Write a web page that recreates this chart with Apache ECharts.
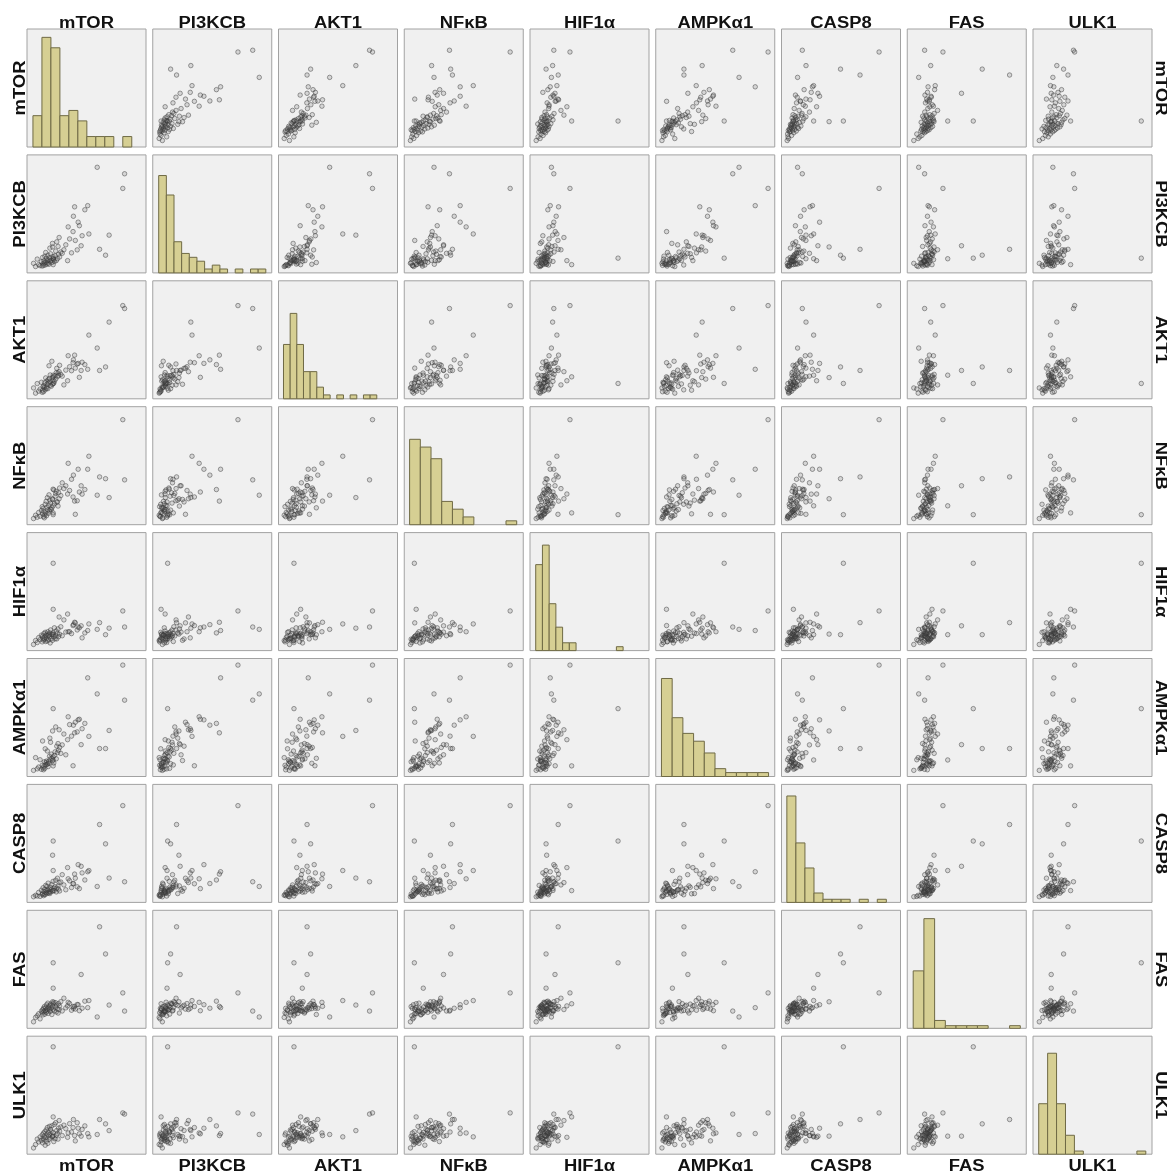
<!DOCTYPE html>
<html><head><meta charset="utf-8">
<script src="https://cdn.jsdelivr.net/npm/echarts@6/dist/echarts.min.js"></script>
<style>html,body{margin:0;padding:0;background:#fff}#c{width:1167px;height:1174px}</style>
</head><body><div id="c"></div>
<script>
// Variable names (column / row order)
const varNames = ['mTOR','PI3KCB','AKT1','NFκB','HIF1α','AMPKα1','CASP8','FAS','ULK1'];

// Observations (values on each variable's 0–100 axis scale), one array per variable
const mTOR = [82, 80.5, 59, 69, 52, 66, 61, 51, 45.5, 22, 22, 21.5, 22, 40, 39, 43, 34.6,
  5.5, 7.2, 8.6, 9.8, 11.0, 12.1, 12.8, 13.1, 13.5, 13.9, 14.2, 14.6, 15.0, 15.3, 15.7, 16.1, 16.4, 16.8, 17.1, 17.5, 17.8, 18.2, 18.5, 18.9, 19.2, 19.5, 19.8, 20.4, 20.9, 21.4, 21.9, 22.5, 23.0, 23.6, 24.1, 24.6, 25.0, 25.6, 26.1, 26.5, 27.0, 27.4, 28.4, 29.6, 31.0, 32.6, 34.1, 35.8, 37.4, 38.7, 40.6, 42.2, 44.0, 46.3, 48.6];
const PI3KCB = [84, 71.6, 89.5, 32, 33, 15, 20, 57, 23, 12.5, 7, 22, 12, 56, 48, 43, 39,
  8.1, 5.4, 11.7, 7.0, 6.1, 9.5, 5.8, 13.1, 7.8, 6.4, 10.2,
  8.6, 14.2, 6.7, 17.3, 9.0, 12.4, 7.5, 10.6, 15.0, 8.3, 11.0,
  7.3, 12.8, 21.0, 9.9, 16.2, 10.8, 8.8, 25.0, 13.9, 11.2, 9.7,
  14.6, 18.5, 10.4, 26.3, 12.0, 22.4, 15.8, 30.0, 13.5, 17.7, 16.6,
  19.6, 23.8, 10.4, 28.8, 17.0, 35.0, 27.5, 19.5, 40.0, 31.5, 53.5];
const AKT1 = [76.5, 79, 43, 65, 54, 27, 24, 25, 24, 13, 18.6, 18, 20, 37, 33, 30, 36.5,
  9.2, 4.8, 12.9, 6.5, 8.3, 14.0, 5.5, 7.3, 10.3, 6.0, 11.2,
  9.7, 13.7, 7.6, 17.7, 10.0, 8.9, 15.0, 12.6, 8.6, 16.2, 13.5,
  28.0, 17.2, 14.5, 20.2, 11.5, 10.6, 31.8, 12.3, 15.7, 13.2, 14.8,
  19.7, 16.7, 22.2, 25.8, 18.7, 21.8, 19.8, 23.0, 28.4, 20.7, 19.2,
  11.8, 24.3, 15.3, 27.2, 23.8, 30.6, 26.0, 29.5, 18.2, 31.0, 29.0];
const NFkB = [38, 89, 25, 23, 58, 39, 40.5, 47, 33, 8.5, 10, 22, 16, 20, 42, 47, 52,
  5.2, 8.0, 6.3, 10.4, 7.2, 12.0, 15.3, 9.2, 13.8, 6.8, 11.2,
  5.8, 8.4, 17.3, 10.0, 19.8, 7.6, 14.8, 22.9, 12.4, 9.6, 16.3,
  25.3, 11.6, 20.8, 13.2, 18.3, 12.8, 14.3, 21.4, 30.1, 29.5, 17.8,
  24.1, 26.5, 28.3, 19.3, 19.3, 15.8, 27.1, 22.0, 31.1, 24.7, 35.5,
  30.6, 33.0, 26.0, 29.0, 38.5, 23.5, 8.8, 20.3, 27.7, 25.9, 29.8];
const HIF1a = [20, 33.6, 18, 19, 22.6, 13.5, 23.7, 17, 21, 74, 35, 14, 13.5, 24, 22, 20, 16,
  5.2, 8.5, 6.8, 11.0, 9.3, 13.1, 7.4, 12.2, 10.6, 8.9, 14.4, 9.7, 11.5, 15.5, 7.7, 12.9, 10.1, 14.1, 8.2, 16.0, 12.6, 9.1, 13.6, 11.9, 14.9, 6.5, 17.5, 10.2, 13.4, 8.7, 15.2, 11.7, 19.3, 10.0, 12.4, 16.6, 9.9, 14.6, 18.4, 11.8, 28.5, 13.9, 20.2, 12.6, 26.0, 15.7, 31.0, 16.0, 14.4, 21.2, 23.5, 17.5, 19.3, 10.8, 15.0];
const AMPKa1 = [64.7, 94.4, 70, 39, 34, 23.7, 23.7, 83.6, 27, 57.5, 9, 38.6, 14, 37, 43.5, 48, 50.6,
  5.2, 16.0, 6.5, 8.0, 14.2, 6.1, 9.5, 30.1, 7.3, 5.7, 8.8,
  12.5, 6.9, 23.5, 9.8, 11.9, 13.1, 10.2, 21.6, 10.9, 8.4, 12.8,
  11.2, 17.2, 32.5, 14.8, 29.0, 19.0, 15.4, 13.5, 16.6, 11.5, 17.8,
  20.9, 42.0, 15.0, 25.7, 20.2, 27.9, 22.3, 39.6, 24.6, 19.6, 26.8,
  36.0, 18.4, 31.2, 44.0, 34.2, 9.1, 46.0, 37.8, 48.5, 40.5, 45.0];
const CASP8 = [17.5, 82, 13.5, 20.6, 27, 49.6, 66, 26, 30.6, 52, 10, 40, 27, 24, 16, 32, 20,
  4.8, 6.0, 5.4, 8.5, 5.1, 10.3, 6.8, 7.3, 12.4, 5.7, 9.3,
  7.0, 11.1, 6.5, 14.4, 8.2, 9.9, 13.6, 7.8, 10.5, 16.3, 8.0,
  11.5, 9.1, 7.5, 8.7, 12.8, 10.9, 15.3, 9.5, 17.8, 11.9, 10.1,
  13.2, 18.8, 8.9, 12.0, 20.5, 14.0, 11.3, 16.8, 9.7, 17.3, 23.5,
  14.8, 10.7, 29.5, 18.3, 12.6, 15.8, 20.5, 13.2, 11.7, 25.0, 19.0];
const FAS = [14.6, 30, 9.6, 19.7, 23.5, 63, 86, 17.5, 45.6, 55.5, 20.8, 22.5, 34, 18.6, 17, 20, 22,
  5.5, 9.2, 10.6, 12.3, 8.0, 14.5, 13.1, 15.7, 11.4, 16.9, 14.1, 18.4, 12.0, 15.1, 17.5, 13.5, 19.9, 16.3, 14.7, 21.3, 12.6, 18.1, 16.7, 15.5, 19.3, 14.3, 20.5, 17.1, 11.7, 18.7, 16.1, 22.1, 14.9, 17.8, 21.7, 13.9, 19.6, 16.5, 12.9, 20.9, 15.9, 18.9, 22.6, 14.7, 25.5, 17.3, 19.0, 21.0, 15.3, 18.5, 16.3, 20.2, 14.9, 17.0, 23.0];
const ULK1 = [34, 35, 16.7, 20, 14.7, 25.7, 29.4, 17.5, 15.3, 91, 31.6, 15.3, 15.3, 15.8, 29.4, 22, 18,
  5.3, 8.2, 12.8, 10.4, 14.6, 11.6, 16.4, 9.6, 13.4, 17.9, 12.2, 15.2, 19.1, 7.6, 14.0, 20.6, 11.0, 17.0, 22.6, 9.2, 15.5, 18.5, 12.5, 23.6, 16.7, 13.7, 21.1, 19.5, 24.1, 14.9, 18.2, 10.7, 25.2, 13.1, 26.7, 16.1, 20.1, 17.6, 12.8, 22.1, 28.5, 19.5, 23.1, 15.8, 24.6, 21.6, 14.3, 25.9, 18.8, 22.6, 11.3, 26.7, 17.3, 21.0, 24.0];

// Histogram bins (diagonal): first bin edge, bin width, counts, axis max for counts
const histStart = [5, 5, 4.2, 4.5, 4.8, 4.8, 4.5, 5, 4.8];
const histWidth = [7.55, 6.43, 5.6, 9.0, 5.65, 9.0, 7.6, 9.0, 7.5];
const histCounts = [
  [6,21,19,6,7,5,2,2,2,0,2],
  [25,20,8,5,4,3,1,2,1,0,1,0,1,1],
  [14,22,14,7,7,3,1,0,1,0,1,0,1,1],
  [22,20,17,6,4,2,0,0,0,1],
  [22,27,12,6,2,2,0,0,0,0,0,0,1],
  [25,15,11,9,6,2,1,1,1,1],
  [34,19,11,3,1,1,1,0,1,0,1],
  [22,42,3,1,1,1,1,0,0,1],
  [16,32,16,6,1,0,0,0,0,0,0,1]
];
const histMax = [22.6, 30.3, 30.4, 30.4, 30.2, 30.1, 37.7, 45.2, 37.4];

const columns = [mTOR, PI3KCB, AKT1, NFkB, HIF1a, AMPKa1, CASP8, FAS, ULK1];

// layout
const N = varNames.length;
const L0 = 27, T0 = 29, SX = 125.75, SY = 125.9, W = 119, H = 118;
const grids = [], xAxes = [], yAxes = [], series = [], graphics = [];
const labelFont = 'bold 16px "Liberation Sans", Arial, sans-serif';

for (let r = 0; r < N; r++) {
  for (let c = 0; c < N; c++) {
    const k = r * N + c;
    grids.push({left: L0 + c * SX, top: T0 + r * SY, width: W, height: H, show: true,
      backgroundColor: '#f0f0f0', borderColor: '#a2a2a2', borderWidth: 1});
    xAxes.push({gridIndex: k, type: 'value', min: 0, max: 100, show: false});
    if (r === c) {
      yAxes.push({gridIndex: k, type: 'value', min: 0, max: histMax[r], show: false});
      const data = [];
      histCounts[r].forEach((n, i) => {
        if (n > 0) data.push([histStart[r] + i * histWidth[r], histStart[r] + (i + 1) * histWidth[r], n]);
      });
      series.push({type: 'custom', xAxisIndex: k, yAxisIndex: k, silent: true, animation: false,
        encode: {x: [0, 1], y: 2}, data,
        renderItem: (params, api) => {
          const p0 = api.coord([api.value(0), api.value(2)]);
          const p1 = api.coord([api.value(1), 0]);
          return {type: 'rect', shape: {x: p0[0], y: p0[1], width: p1[0] - p0[0], height: p1[1] - p0[1]},
            style: {fill: '#d6cf93', stroke: '#6f6a45', lineWidth: 1}};
        }});
    } else {
      yAxes.push({gridIndex: k, type: 'value', min: 0, max: 100, show: false});
      const xs = columns[c], ys = columns[r];
      const n = Math.min(xs.length, ys.length);
      const data = [];
      for (let i = 0; i < n; i++) data.push([xs[i], ys[i]]);
      series.push({type: 'scatter', xAxisIndex: k, yAxisIndex: k, silent: true, animation: false,
        symbol: 'circle', symbolSize: 4.5, data,
        itemStyle: {color: 'rgba(90,90,90,0.22)', borderColor: 'rgba(55,55,55,0.75)', borderWidth: 0.8}});
    }
  }
}

// labels
for (let i = 0; i < N; i++) {
  const cx = L0 + i * SX + W / 2;
  const cy = T0 + i * SY + H / 2;
  graphics.push({type: 'text', x: cx, y: 23.5, scaleX: 1.15, silent: true,
    style: {text: varNames[i], font: labelFont, fill: '#111', textAlign: 'center', textVerticalAlign: 'middle'}});
  graphics.push({type: 'text', x: cx, y: 1166.5, scaleX: 1.15, silent: true,
    style: {text: varNames[i], font: labelFont, fill: '#111', textAlign: 'center', textVerticalAlign: 'middle'}});
  graphics.push({type: 'text', x: 20.5, y: cy, rotation: Math.PI / 2, scaleX: 1.15, silent: true,
    style: {text: varNames[i], font: labelFont, fill: '#111', textAlign: 'center', textVerticalAlign: 'middle'}});
  graphics.push({type: 'text', x: 1160, y: cy, rotation: -Math.PI / 2, scaleX: 1.15, silent: true,
    style: {text: varNames[i], font: labelFont, fill: '#111', textAlign: 'center', textVerticalAlign: 'middle'}});
}

const chart = echarts.init(document.getElementById('c'), null, {renderer: 'canvas'});
chart.setOption({animation: false, backgroundColor: '#ffffff', grid: grids, xAxis: xAxes, yAxis: yAxes, series, graphic: graphics});
</script>
</body></html>
